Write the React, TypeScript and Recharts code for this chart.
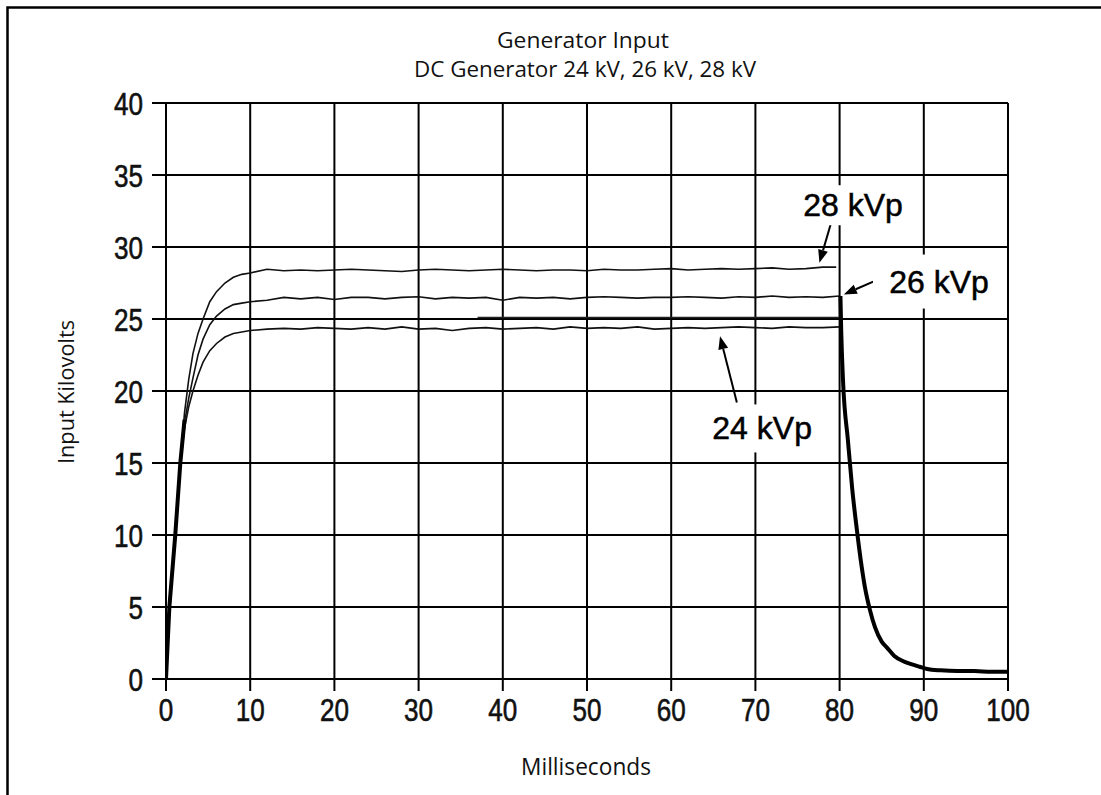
import { LineChart, Line, XAxis, YAxis, CartesianGrid, ReferenceLine, ReferenceDot } from "recharts"

// time bases (ms)
const riseTimes = [0, 0.4, 1.1, 1.7, 2.2, 2.7, 3.2, 3.8, 4.4, 5.2, 6, 7, 8, 9, 10]
const plateauTimes = [
  12, 14, 16, 18, 20, 22, 24, 26, 28, 30, 32, 34, 36, 38, 40, 42, 44,
  46, 48, 50, 52, 54, 56, 58, 60, 62, 64, 66, 68, 70, 72, 74, 76, 78,
]

// input kilovolts for each generator setting
const rise28 = [0, 5, 10, 15, 18.5, 20.8, 22.6, 24.0, 25.0, 26.2, 26.9, 27.5, 27.9, 28.1, 28.2]
const plateau28 = [
  28.45, 28.35, 28.4, 28.35, 28.4, 28.45, 28.4, 28.35, 28.3, 28.4, 28.45, 28.4, 28.35, 28.4, 28.45, 28.4, 28.35,
  28.4, 28.4, 28.35, 28.45, 28.4, 28.4, 28.45, 28.5, 28.4, 28.45, 28.5, 28.45, 28.5, 28.55, 28.45, 28.5, 28.6,
]
const end28 = { t: 79.6, v: 28.6 }

const rise26 = [0, 5, 10, 15, 17.8, 19.5, 20.9, 22.5, 23.6, 24.6, 25.2, 25.7, 26.0, 26.1, 26.2]
const plateau26 = [
  26.3, 26.5, 26.4, 26.5, 26.35, 26.5, 26.5, 26.4, 26.5, 26.55, 26.4, 26.5, 26.45, 26.5, 26.3, 26.5, 26.45,
  26.5, 26.4, 26.5, 26.55, 26.5, 26.45, 26.5, 26.5, 26.55, 26.5, 26.45, 26.55, 26.5, 26.6, 26.5, 26.55, 26.5,
]
const end26 = { t: 80, v: 26.6 }

const rise24 = [0, 5, 10, 14.8, 17.4, 18.9, 20.0, 21.1, 22.0, 22.8, 23.3, 23.75, 24.0, 24.1, 24.2]
const plateau24 = [
  24.3, 24.35, 24.3, 24.4, 24.35, 24.3, 24.4, 24.3, 24.45, 24.3, 24.35, 24.2, 24.35, 24.4, 24.3, 24.35, 24.4,
  24.3, 24.45, 24.35, 24.4, 24.35, 24.45, 24.3, 24.35, 24.4, 24.35, 24.4, 24.45, 24.4, 24.35, 24.45, 24.4, 24.4,
]
const end24 = { t: 80, v: 24.45 }

// shared leading edge and fall-off after the exposure ends
const edgeTimes = [0, 0.4, 1.1, 1.7, 2.2]
const edgeValues = [0, 5, 10, 15, 18]
const fallTimes = [80.1, 80.2, 80.4, 81, 81.5, 82, 82.5, 83, 83.6, 84.2, 85, 85.6, 86.5, 87.5, 88.4, 89.5, 90.4, 92, 94, 96, 98, 100]
const fallValues = [26.6, 24, 20.8, 16.5, 13.2, 10.6, 8.3, 6.4, 4.8, 3.6, 2.6, 2.2, 1.6, 1.25, 1.05, 0.85, 0.7, 0.6, 0.55, 0.55, 0.5, 0.5]
const markTimes = [37, 80]
const markValues = [25.1, 25.1]

const xTicks = [0, 10, 20, 30, 40, 50, 60, 70, 80, 90, 100]
const yTicks = [0, 5, 10, 15, 20, 25, 30, 35, 40]

// callouts: label position and arrow from/to, in data units
const callouts = [
  { text: "28 kVp", t: 81.6, v: 32.9, w: 108, h: 40, from: { t: 79.0, v: 31.7 }, to: { t: 77.6, v: 28.9 } },
  { text: "26 kVp", t: 91.8, v: 27.6, w: 132, h: 54, from: { t: 84.0, v: 27.6 }, to: { t: 80.5, v: 26.7 } },
  { text: "24 kVp", t: 70.8, v: 17.4, w: 124, h: 48, from: { t: 67.8, v: 19.2 }, to: { t: 65.8, v: 23.8 } },
]

const toPoints = (ts: number[], vs: number[]) => ts.map((t, i) => ({ t, v: vs[i] }))
const trace = (rise: number[], plateau: number[], end: { t: number; v: number }) => [
  ...toPoints(riseTimes, rise),
  ...toPoints(plateauTimes, plateau),
  end,
]

const series28 = trace(rise28, plateau28, end28)
const series26 = trace(rise26, plateau26, end26)
const series24 = trace(rise24, plateau24, end24)
const edge = toPoints(edgeTimes, edgeValues)
const fall = toPoints(fallTimes, fallValues)
const mark = toPoints(markTimes, markValues)

const tickFont = '"Liberation Sans", Arial, sans-serif'
const labelFont = '"Liberation Sans", Arial, sans-serif'
const textFont = '"Open Sans", "Noto Sans", sans-serif'

// narrow digits, roughly 14.5px per character
const NarrowTick = (props: any) => {
  const { x, y, payload, textAnchor, vertical } = props
  const label = String(payload.value)
  return (
    <text
      x={x}
      y={y}
      dy={vertical ? "0.36em" : "0.72em"}
      textAnchor={textAnchor}
      fontFamily={tickFont}
      fontSize={32}
      fill="#111"
      stroke="#111"
      strokeWidth={0.6}
      textLength={label.length * 14.5}
      lengthAdjust="spacingAndGlyphs"
    >
      {label}
    </text>
  )
}

const Arrow = (props: any) => {
  const { x1, y1, x2, y2 } = props
  const dx = x2 - x1
  const dy = y2 - y1
  const len = Math.sqrt(dx * dx + dy * dy) || 1
  const ux = dx / len
  const uy = dy / len
  const head = 13
  const half = 5
  const bx = x2 - ux * head
  const by = y2 - uy * head
  return (
    <g>
      <line x1={x1} y1={y1} x2={bx} y2={by} stroke="#000" strokeWidth={2} />
      <polygon
        points={`${x2},${y2} ${bx - uy * half},${by + ux * half} ${bx + uy * half},${by - ux * half}`}
        fill="#000"
      />
    </g>
  )
}

const calloutLabel = (text: string, w: number, h: number) => (props: any) => {
  const { cx, cy } = props
  return (
    <g>
      <rect x={cx - w / 2} y={cy - h / 2} width={w} height={h} fill="#fff" />
      <text x={cx} y={cy + 11} textAnchor="middle" fontFamily={labelFont} fontSize={32} fill="#000" stroke="#000" strokeWidth={0.5}>
        {text}
      </text>
    </g>
  )
}

export default function App() {
  return (
    <div style={{ position: "absolute", left: 0, top: 0, width: 1101, height: 795, overflow: "hidden", background: "#fff" }}>
      <LineChart width={1101} height={795} margin={{ top: 103, right: 93, bottom: 56, left: 86 }}>
        <CartesianGrid stroke="#000" strokeWidth={2} strokeOpacity={1} />
        <XAxis
          type="number"
          dataKey="t"
          domain={[0, 100]}
          ticks={xTicks}
          height={60}
          axisLine={false}
          tickSize={12}
          tickMargin={7}
          tickLine={{ stroke: "#000", strokeWidth: 2 }}
          tick={<NarrowTick />}
          allowDataOverflow
        />
        <YAxis
          type="number"
          domain={[0, 40]}
          ticks={yTicks}
          width={80}
          axisLine={false}
          tickSize={14}
          tickMargin={9}
          tickLine={{ stroke: "#000", strokeWidth: 2 }}
          tick={<NarrowTick vertical />}
        />
        <Line data={series28} dataKey="v" type="linear" stroke="#111" strokeWidth={1.6} dot={false} isAnimationActive={false} />
        <Line data={series26} dataKey="v" type="linear" stroke="#111" strokeWidth={1.6} dot={false} isAnimationActive={false} />
        <Line data={series24} dataKey="v" type="linear" stroke="#111" strokeWidth={1.6} dot={false} isAnimationActive={false} />
        <Line data={mark} dataKey="v" type="linear" stroke="#222" strokeWidth={1.4} dot={false} isAnimationActive={false} />
        <Line data={edge} dataKey="v" type="linear" stroke="#000" strokeWidth={4} dot={false} isAnimationActive={false} />
        <Line data={fall} dataKey="v" type="monotone" stroke="#000" strokeWidth={4} dot={false} isAnimationActive={false} />
        {callouts.map((c) => (
          <ReferenceDot
            key={c.text}
            x={c.t}
            y={c.v}
            r={1}
            ifOverflow="visible"
            shape={calloutLabel(c.text, c.w, c.h)}
          />
        ))}
        {callouts.map((c) => (
          <ReferenceLine
            key={c.text + "-arrow"}
            segment={[
              { x: c.from.t, y: c.from.v },
              { x: c.to.t, y: c.to.v },
            ]}
            ifOverflow="visible"
            shape={Arrow}
          />
        ))}
      </LineChart>
      <svg width={1101} height={795} style={{ position: "absolute", left: 0, top: 0, pointerEvents: "none" }}>
        <path d="M7.5,800 V7.5 H1101" fill="none" stroke="#000" strokeWidth={2.5} />
        <text x={583} y={48} textAnchor="middle" fontFamily={textFont} fontSize={22} textLength={172} lengthAdjust="spacingAndGlyphs" fill="#111">
          Generator Input
        </text>
        <text x={585} y={77} textAnchor="middle" fontFamily={textFont} fontSize={22} textLength={342} lengthAdjust="spacingAndGlyphs" fill="#111">
          DC Generator 24 kV, 26 kV, 28 kV
        </text>
        <text x={586} y={775} textAnchor="middle" fontFamily={textFont} fontSize={23} textLength={130} lengthAdjust="spacingAndGlyphs" fill="#111">
          Milliseconds
        </text>
        <text
          x={0}
          y={0}
          transform="translate(74,392) rotate(-90)"
          textAnchor="middle"
          fontFamily={textFont}
          fontSize={22}
          textLength={144}
          lengthAdjust="spacingAndGlyphs"
          fill="#111"
        >
          Input Kilovolts
        </text>
      </svg>
    </div>
  )
}
